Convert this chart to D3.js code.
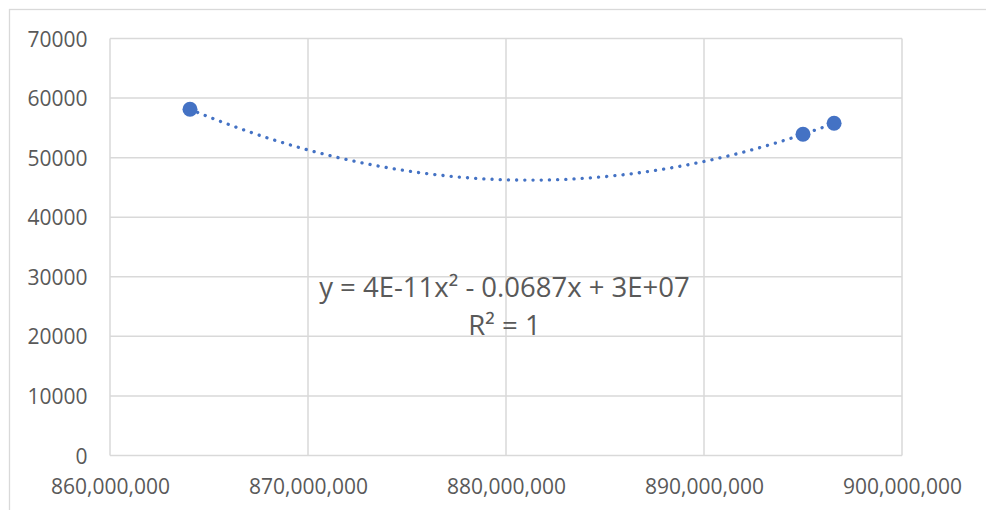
<!DOCTYPE html>
<html>
<head>
<meta charset="utf-8">
<script src="https://cdn.jsdelivr.net/npm/d3@7"></script>
<style>
  html, body { margin: 0; padding: 0; background: #fff; }
  svg { display: block; }
  text { font-family: "Open Sans", "Liberation Sans", sans-serif; fill: #595959; }
</style>
</head>
<body>
<svg id="chart" width="986" height="510"></svg>
<script>
// ---- data ----
const xValues = [864040000, 895000000, 896570000];
const yValues = [58120, 53920, 55770];
const xTicks = [860000000, 870000000, 880000000, 890000000, 900000000];
const yTicks = [0, 10000, 20000, 30000, 40000, 50000, 60000, 70000];
const equationLabel = "y = 4E-11x² - 0.0687x + 3E+07";
const r2Label = "R² = 1";

(function () {
const svg = d3.select("#chart");
const W = 986, H = 510;
const pLeft = 110, pRight = 902, pTop = 38.5, pBottom = 455.5;

const x = d3.scaleLinear().domain([860000000, 900000000]).range([pLeft, pRight]);
const y = d3.scaleLinear().domain([0, 70000]).range([pBottom, pTop]);

// chart outer border (extends beyond right/bottom)
svg.append("rect").attr("x", 9.5).attr("y", 9.5).attr("width", W + 10).attr("height", H + 10)
  .attr("fill", "none").attr("stroke", "#d9d9d9").attr("stroke-width", 1.3);

// gridlines
svg.append("g").selectAll("line").data(xTicks).join("line")
  .attr("x1", d => x(d)).attr("x2", d => x(d)).attr("y1", pTop).attr("y2", pBottom)
  .attr("stroke", "#d9d9d9").attr("stroke-width", 1.5);
svg.append("g").selectAll("line").data(yTicks).join("line")
  .attr("x1", pLeft).attr("x2", pRight).attr("y1", d => y(d)).attr("y2", d => y(d))
  .attr("stroke", "#d9d9d9").attr("stroke-width", 1.5);

// axes (labels only)
const xAxis = d3.axisBottom(x).tickValues(xTicks).tickFormat(d3.format(",")).tickSize(0).tickPadding(0);
const xg = svg.append("g").attr("transform", `translate(0,${pBottom})`).call(xAxis);
xg.select(".domain").remove();
xg.attr("font-family", null).attr("font-size", null);
xg.selectAll("text").attr("y", 38.5).attr("dy", null).style("font-size", "21px").attr("fill", "#595959");

const yAxis = d3.axisLeft(y).tickValues(yTicks).tickFormat(d3.format("d")).tickSize(0).tickPadding(0);
const yg = svg.append("g").attr("transform", `translate(${pLeft},0)`).call(yAxis);
yg.select(".domain").remove();
yg.attr("font-family", null).attr("font-size", null);
yg.selectAll("text").attr("x", -22.5).attr("dy", "0.36em").style("font-size", "21px").attr("fill", "#595959");

// quadratic trendline through the data (least squares, degree 2)
function polyfit2(xs, ys) {
  const x0 = d3.mean(xs);
  const u = xs.map(v => (v - x0) / 1e6);
  const S = [0,0,0,0,0], T = [0,0,0];
  u.forEach((ui, i) => {
    for (let k = 0; k < 5; k++) S[k] += Math.pow(ui, k);
    for (let k = 0; k < 3; k++) T[k] += ys[i] * Math.pow(ui, k);
  });
  const M = [[S[0],S[1],S[2],T[0]],[S[1],S[2],S[3],T[1]],[S[2],S[3],S[4],T[2]]];
  for (let i = 0; i < 3; i++) {
    let p = i; for (let r = i+1; r < 3; r++) if (Math.abs(M[r][i]) > Math.abs(M[p][i])) p = r;
    [M[i], M[p]] = [M[p], M[i]];
    for (let r = 0; r < 3; r++) if (r !== i) {
      const f = M[r][i] / M[i][i];
      for (let c = i; c < 4; c++) M[r][c] -= f * M[i][c];
    }
  }
  const c = [M[0][3]/M[0][0], M[1][3]/M[1][1], M[2][3]/M[2][2]];
  return xv => { const t = (xv - x0) / 1e6; return c[0] + c[1]*t + c[2]*t*t; };
}
const fit = polyfit2(xValues, yValues);
const xMin = d3.min(xValues), xMax = d3.max(xValues);
const trendX = d3.range(0, 201).map(i => xMin + (xMax - xMin) * i / 200);
const line = d3.line().x(d => x(d)).y(d => y(fit(d)));
svg.append("path").datum(trendX).attr("d", line)
  .attr("fill", "none").attr("stroke", "#4472c4").attr("stroke-width", 3.3)
  .attr("stroke-linecap", "round").attr("stroke-dasharray", "0.1 8.1");

// markers
svg.append("g").selectAll("circle").data(xValues).join("circle")
  .attr("cx", d => x(d)).attr("cy", (d, i) => y(yValues[i])).attr("r", 7.5)
  .attr("fill", "#4472c4");

// equation label
const lbl = svg.append("text").attr("text-anchor", "middle").style("font-size", "27.5px");
lbl.append("tspan").attr("x", 504.5).attr("y", 297).text(equationLabel);
lbl.append("tspan").attr("x", 504.5).attr("y", 334.5).text(r2Label);
})();
</script>
</body>
</html>
